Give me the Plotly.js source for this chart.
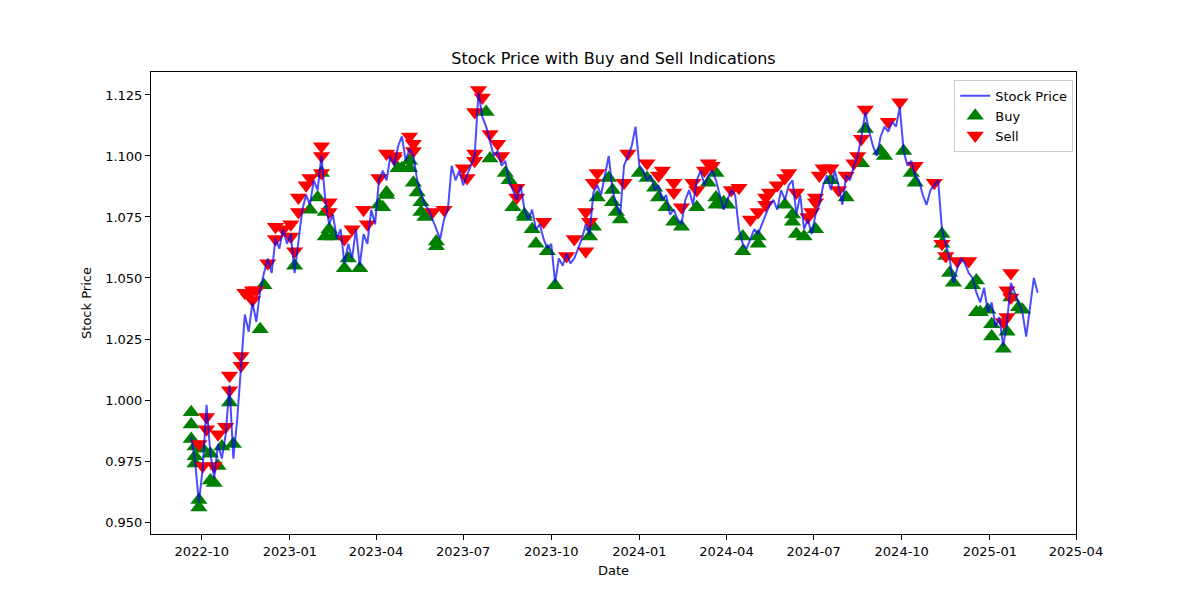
<!DOCTYPE html>
<html>
<head>
<meta charset="utf-8">
<script src="https://cdn.plot.ly/plotly-3.0.1.min.js"></script>
<style>
  html, body { margin: 0; padding: 0; background: #fff; }
  #chart { width: 1200px; height: 600px; }
</style>
</head>
<body>
<div id="chart"></div>
<script>
/* Stock price line with buy / sell markers */

// price series: one reading every 4 days starting 2022-09-20
const START_DATE = '2022-09-20';
const STEP_DAYS = 4;
const prices = [
    0.985, 0.975, 0.958, 0.972, 0.998, 0.978, 0.968, 0.982, 0.976, 0.986,
    1.006, 0.976, 0.992, 1.015, 1.035, 1.028, 1.040, 1.032, 1.045, 1.052,
    1.058, 1.052, 1.066, 1.062, 1.070, 1.064, 1.068, 1.052, 1.066, 1.078,
    1.084, 1.080, 1.090, 1.086, 1.100, 1.082, 1.072, 1.076, 1.066, 1.070,
    1.056, 1.064, 1.058, 1.070, 1.055, 1.068, 1.064, 1.078, 1.072, 1.090,
    1.094, 1.090, 1.100, 1.096, 1.104, 1.108, 1.098, 1.103, 1.100, 1.090,
    1.085, 1.080, 1.078, 1.074, 1.070, 1.066, 1.074, 1.078, 1.096, 1.090,
    1.094, 1.088, 1.092, 1.096, 1.100, 1.126, 1.116, 1.112, 1.106, 1.100,
    1.102, 1.096, 1.098, 1.090, 1.086, 1.082, 1.088, 1.078, 1.074, 1.078,
    1.070, 1.072, 1.066, 1.062, 1.064, 1.048, 1.058, 1.055, 1.060, 1.056,
    1.058, 1.062, 1.066, 1.072, 1.068, 1.085, 1.088, 1.084, 1.092, 1.100,
    1.086, 1.080, 1.076, 1.096, 1.100, 1.104, 1.112, 1.096, 1.094, 1.090,
    1.092, 1.086, 1.088, 1.082, 1.084, 1.076, 1.078, 1.074, 1.072, 1.082,
    1.086, 1.080, 1.090, 1.094, 1.088, 1.092, 1.094, 1.090, 1.084, 1.078,
    1.082, 1.086, 1.084, 1.070, 1.064, 1.062, 1.066, 1.070, 1.068, 1.072,
    1.076, 1.080, 1.082, 1.078, 1.086, 1.082, 1.088, 1.090, 1.076, 1.084,
    1.070, 1.074, 1.068, 1.076, 1.080, 1.088, 1.092, 1.086, 1.094, 1.088,
    1.080, 1.092, 1.090, 1.096, 1.100, 1.108, 1.118, 1.110, 1.104, 1.100,
    1.108, 1.112, 1.110, 1.114, 1.112, 1.120, 1.102, 1.096, 1.098, 1.092,
    1.090, 1.084, 1.080, 1.086, 1.088, 1.090, 1.070, 1.064, 1.058, 1.048,
    1.054, 1.058, 1.056, 1.052, 1.050, 1.044, 1.040, 1.046, 1.036, 1.040,
    1.030, 1.034, 1.022, 1.032, 1.048, 1.044, 1.040, 1.036, 1.026, 1.038,
    1.050, 1.044
];

// buy signals: position in the price series, price at signal
const buyIdx = [
    0, 0, 0, 1, 1, 1, 2, 2, 3, 5, 5, 6, 7, 8, 10, 11, 18, 19, 27, 31,
    33, 34, 35, 35, 36, 37, 40, 41, 44, 49, 50, 51, 51, 54, 55, 57, 57, 58, 59, 60,
    60, 61, 64, 64, 77, 78, 82, 83, 84, 87, 87, 89, 90, 93, 95, 104, 105, 106, 109, 110,
    110, 111, 112, 117, 119, 121, 122, 124, 126, 128, 132, 135, 137, 137, 137, 139, 140, 144, 144, 148,
    148, 155, 157, 157, 158, 160, 163, 167, 171, 175, 176, 180, 181, 186, 188, 189, 196, 196, 197, 198,
    199, 204, 205, 205, 206, 208, 209, 209, 212, 213, 214, 216, 217
];
const buyPrice = [
    0.995, 0.990, 0.984, 0.981, 0.977, 0.974, 0.959, 0.956, 0.980, 0.978, 0.967, 0.966, 0.973, 0.981, 0.999, 0.982, 1.029, 1.047, 1.055, 1.078,
    1.083, 1.093, 1.077, 1.067, 1.070, 1.067, 1.054, 1.058, 1.054, 1.080, 1.079, 1.085, 1.084, 1.095, 1.095, 1.095, 1.098, 1.089, 1.085, 1.081,
    1.077, 1.075, 1.065, 1.063, 1.118, 1.099, 1.093, 1.090, 1.079, 1.076, 1.075, 1.070, 1.064, 1.061, 1.047, 1.067, 1.071, 1.083, 1.091, 1.086,
    1.081, 1.077, 1.074, 1.093, 1.091, 1.087, 1.083, 1.079, 1.073, 1.071, 1.079, 1.089, 1.080, 1.093, 1.083, 1.081, 1.080, 1.067, 1.061, 1.067,
    1.064, 1.080, 1.076, 1.073, 1.068, 1.067, 1.070, 1.090, 1.083, 1.097, 1.111, 1.102, 1.100, 1.102, 1.093, 1.089, 1.068, 1.064, 1.059, 1.052,
    1.048, 1.047, 1.049, 1.036, 1.036, 1.037, 1.031, 1.026, 1.021, 1.028, 1.042, 1.038, 1.037
];

// sell signals
const sellIdx = [
    2, 3, 4, 4, 6, 7, 9, 10, 10, 13, 13, 14, 15, 16, 16, 17, 20, 22, 22, 24,
    26, 26, 27, 28, 28, 30, 31, 34, 34, 34, 36, 36, 40, 42, 45, 46, 49, 51, 53, 53,
    57, 58, 58, 63, 66, 71, 72, 74, 74, 74, 75, 76, 78, 80, 81, 85, 85, 92, 98, 100,
    103, 103, 104, 105, 106, 113, 114, 119, 122, 123, 126, 126, 128, 131, 132, 134, 135, 136, 141, 143,
    146, 148, 150, 150, 151, 153, 155, 156, 158, 161, 162, 163, 163, 164, 165, 167, 169, 171, 173, 174,
    175, 176, 182, 185, 189, 194, 196, 197, 200, 203, 212, 213, 213, 214, 214
];
const sellPrice = [
    0.982, 0.973, 0.993, 0.988, 0.973, 0.986, 0.989, 1.010, 1.004, 1.018, 1.014, 1.044, 1.043, 1.045, 1.041, 1.045, 1.056, 1.071, 1.066, 1.070,
    1.072, 1.067, 1.061, 1.077, 1.083, 1.088, 1.091, 1.104, 1.100, 1.093, 1.081, 1.077, 1.066, 1.070, 1.078, 1.072, 1.091, 1.101, 1.099, 1.100,
    1.108, 1.105, 1.102, 1.077, 1.078, 1.095, 1.091, 1.101, 1.098, 1.118, 1.127, 1.124, 1.109, 1.105, 1.100, 1.087, 1.083, 1.073, 1.059, 1.066,
    1.061, 1.077, 1.073, 1.089, 1.093, 1.089, 1.101, 1.097, 1.092, 1.094, 1.089, 1.085, 1.079, 1.089, 1.086, 1.094, 1.097, 1.096, 1.086, 1.087,
    1.074, 1.077, 1.080, 1.083, 1.085, 1.088, 1.091, 1.093, 1.085, 1.075, 1.077, 1.081, 1.083, 1.092, 1.095, 1.095, 1.086, 1.092, 1.097, 1.100,
    1.107, 1.119, 1.114, 1.122, 1.096, 1.089, 1.064, 1.059, 1.057, 1.057, 1.032, 1.045, 1.034, 1.052, 1.042
];

const yTicks = [0.950, 0.975, 1.000, 1.025, 1.050, 1.075, 1.100, 1.125];

function seriesDates(start, step, n) {
    const t0 = Date.parse(start + 'T00:00:00Z');
    const out = [];
    for (let i = 0; i < n; i++) {
        out.push(new Date(t0 + i * step * 86400000).toISOString().slice(0, 10));
    }
    return out;
}

const dates = seriesDates(START_DATE, STEP_DAYS, prices.length);
const FONT = 'DejaVu Sans, Liberation Sans, sans-serif';

const traces = [
    {
        x: buyIdx.map(i => dates[i]),
        y: buyPrice,
        type: 'scatter',
        mode: 'markers',
        name: 'Buy',
        legendrank: 2,
        marker: { symbol: 'triangle-up', size: 15, color: '#008000', line: { width: 0 } },
    },
    {
        x: sellIdx.map(i => dates[i]),
        y: sellPrice,
        type: 'scatter',
        mode: 'markers',
        name: 'Sell',
        legendrank: 3,
        marker: { symbol: 'triangle-down', size: 15, color: '#ff0000', line: { width: 0 } },
    },
    {
        x: dates,
        y: prices,
        type: 'scatter',
        mode: 'lines',
        name: 'Stock Price',
        legendrank: 1,
        line: { color: 'rgba(0,0,255,0.7)', width: 2 },
    },
];

const axisBase = {
    showgrid: false,
    zeroline: false,
    showline: true,
    mirror: true,
    linecolor: '#000',
    linewidth: 1,
    ticks: 'outside',
    ticklen: 5,
    tickcolor: '#000',
    tickfont: { size: 13, color: '#000', family: FONT },
};

const layout = {
    width: 1200,
    height: 600,
    margin: { l: 151, r: 124, t: 72, b: 66 },
    paper_bgcolor: '#fff',
    plot_bgcolor: '#fff',
    font: { family: FONT, color: '#000' },
    title: {
        text: 'Stock Price with Buy and Sell Indications',
        font: { size: 16, color: '#000', family: FONT },
        x: 0.5, xref: 'paper', xanchor: 'center',
        y: 1 - 58 / 600, yref: 'container', yanchor: 'middle',
    },
    xaxis: {
        ...axisBase,
        type: 'date',
        range: ['2022-08-09', '2025-04-01'],
        tick0: '2022-10-01',
        dtick: 'M3',
        tickformat: '%Y-%m',
        title: { text: 'Date', font: { size: 13, color: '#000', family: FONT }, standoff: 8 },
    },
    yaxis: {
        ...axisBase,
        range: [0.9451, 1.1344],
        tickvals: yTicks,
        tickformat: '.3f',
        title: { text: 'Stock Price', font: { size: 13, color: '#000', family: FONT }, standoff: 10 },
    },
    showlegend: true,
    legend: {
        x: 0.997, xanchor: 'right',
        y: 0.983, yanchor: 'top',
        bgcolor: 'rgba(255,255,255,0.8)',
        bordercolor: '#cccccc',
        borderwidth: 1,
        font: { size: 13, color: '#000', family: FONT },
    },
};

Plotly.newPlot('chart', traces, layout, { displayModeBar: false, staticPlot: true });
</script>
</body>
</html>
